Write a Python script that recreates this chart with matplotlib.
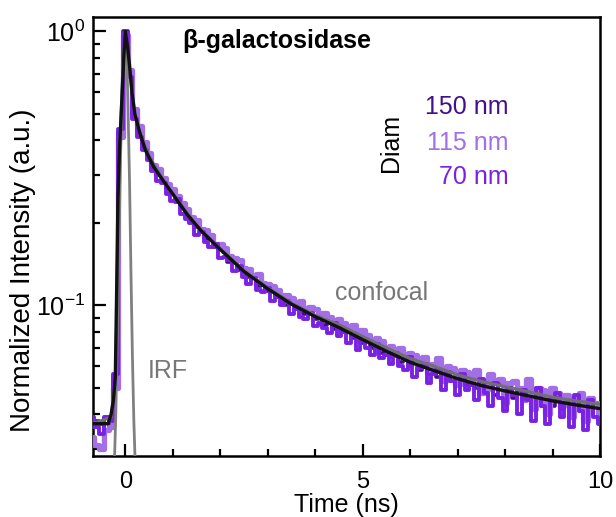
import numpy as np
import matplotlib
matplotlib.use("Agg")
import matplotlib.pyplot as plt
from matplotlib.ticker import MultipleLocator, LogLocator, NullFormatter

plt.rcParams['font.family'] = ['Liberation Sans', 'DejaVu Sans']
plt.rcParams['xtick.labelsize'] = 17
plt.rcParams['ytick.labelsize'] = 18

# -----------------------------------------------------------------
# data

# time axis of the decay histograms (ns), one bin every 0.1 ns
t_data = np.arange(-7, 101) / 10.0

# 115 nm (light purple)
decay_115 = [
    .033, .031, .030, .035, .036, .050, .41, .97, .72, .52,
    .45, .395, .36, .325, .315, .292, .278, .266, .25, .236,
    .224, .211, .205, .19, .188, .18, .168, .167, .162, .151,
    .149, .146, .137, .136, .128, .13, .121, .12, .118, .114,
    .108, .109, .106, .101, .104, .097, .099, .097, .092, .094,
    .091, .087, .089, .086, .083, .085, .079, .081, .078, .074,
    .076, .074, .07, .071, .066, .07, .064, .067, .066, .060,
    .065, .058, .061, .064, .053, .06, .059, .051, .058, .057,
    .054, .058, .048, .049, .056, .053, .054, .044, .052, .053,
    .05, .045, .054, .042, .05, .049, .040, .05, .048, .043,
    .047, .039, .046, .048, .038, .046, .044, .039,
]

# 70 nm (violet)
decay_70 = [
    .039, .036, .034, .039, .038, .056, .44, .99, .68, .48,
    .41, .37, .34, .31, .285, .279, .256, .24, .244, .216,
    .206, .199, .181, .185, .17, .163, .168, .149, .15, .146,
    .134, .139, .127, .12, .126, .114, .112, .116, .104, .107,
    .10, .104, .093, .097, .091, .089, .094, .084, .086, .083,
    .079, .086, .077, .08, .073, .077, .069, .074, .07, .066,
    .072, .064, .066, .061, .067, .06, .058, .065, .055, .059,
    .061, .052, .056, .058, .049, .057, .053, .047, .056, .049,
    .051, .045, .054, .048, .043, .052, .046, .041, .05, .047,
    .04, .049, .045, .038, .05, .043, .037, .046, .048, .039,
    .044, .036, .047, .041, .035, .045, .039, .037,
]

# 150 nm (dark purple)
decay_150 = [
    .036, .038, .037, .035, .039, .055, .43, 1.0, .70, .50,
    .43, .375, .352, .318, .298, .29, .265, .257, .238, .232,
    .21, .208, .193, .189, .176, .174, .163, .16, .157, .144,
    .146, .135, .134, .127, .127, .118, .12, .113, .113, .107,
    .108, .10, .103, .097, .098, .093, .094, .089, .091, .085,
    .088, .082, .085, .08, .081, .076, .078, .073, .075, .07,
    .073, .067, .07, .065, .067, .062, .065, .06, .063, .058,
    .061, .056, .06, .055, .058, .053, .057, .052, .055, .051,
    .054, .05, .053, .049, .052, .047, .051, .047, .05, .046,
    .049, .045, .048, .044, .048, .043, .047, .043, .046, .042,
    .046, .042, .045, .041, .044, .04, .044, .041,
]

# confocal reference decay (gray)
t_conf = [-0.7, -0.3, -0.2, -0.15, -0.1, -0.05, 0.0, 0.1, 0.2, 0.3, 0.5, 0.8, 1.0, 1.5,
          2.0, 2.5, 3.0, 3.5, 4.0, 4.5, 5.0, 5.5, 6.0, 6.5, 7.0, 7.5, 8.0, 8.5, 9.0, 9.5, 10.0]
decay_conf = [0.037, 0.039, 0.055, 0.22, 0.44, 0.75, 0.98, 0.70, 0.50, 0.43, 0.35, 0.286, 0.256, 0.196,
              0.161, 0.134, 0.116, 0.102, 0.092, 0.085, 0.077, 0.070, 0.064, 0.060, 0.0558, 0.0528,
              0.0505, 0.0484, 0.0462, 0.0448, 0.0436]

# fitted decay (black)
t_fit = [-0.7, -0.36, -0.3, -0.25, -0.21, -0.18, -0.155, -0.12, -0.07, -0.03, 0.0, 0.05, 0.09, 0.14,
         0.2, 0.3, 0.42, 0.6, 0.8, 1.0, 1.3, 1.6, 2.0, 2.5, 3.0, 3.5, 4.0, 4.5, 5.0, 5.5, 6.0, 6.5,
         7.0, 7.5, 8.0, 8.5, 9.0, 9.5, 10.0]
decay_fit = [0.037, 0.037, 0.040, 0.045, 0.055, 0.12, 0.245, 0.38, 0.57, 0.82, 1.0, 0.87, 0.75, 0.60,
             0.50, 0.43, 0.37, 0.32, 0.285, 0.255, 0.215, 0.187, 0.160, 0.133, 0.115, 0.101, 0.091,
             0.083, 0.075, 0.068, 0.062, 0.0578, 0.054, 0.051, 0.0487, 0.0467, 0.0448, 0.0433, 0.042]

# instrument response function (gray)
t_irf = [-0.25, -0.2, -0.15, -0.1, -0.05, 0.0, 0.03, 0.06, 0.09, 0.12, 0.15, 0.18, 0.21, 0.25]
irf = [0.02, 0.04, 0.11, 0.35, 0.75, 1.0, 0.85, 0.5, 0.28, 0.13, 0.065, 0.038, 0.026, 0.018]

diameters = ["150 nm", "115 nm", "70 nm"]
colors = ["#44108a", "#a36fe6", "#7a22e4"]

# -----------------------------------------------------------------

fig = plt.figure(figsize=(6.16, 5.17), dpi=100)
ax = fig.add_axes([0.151, 0.118, 0.823, 0.849])

# noisy decays as histograms (thick lines so the bins merge into a band)
ax.plot(t_data, decay_150, drawstyle='steps-mid', color=colors[0], lw=2.6, zorder=2)
ax.plot(t_data, decay_115, drawstyle='steps-mid', color=colors[1], lw=3.8, zorder=3)
ax.plot(t_data, decay_70, drawstyle='steps-mid', color=colors[2], lw=2.8, zorder=4)

# IRF, confocal reference and fit
ax.plot(t_irf, irf, color='#808080', lw=2, zorder=5)
ax.plot(t_conf, decay_conf, color='#707070', lw=2.2, zorder=6)
ax.plot(t_fit, decay_fit, color='#111111', lw=2.4, zorder=7)

ax.set_yscale('log')
ax.set_xlim(-0.68, 10.0)
ax.set_ylim(0.0282, 1.128)

# ticks: inward on left and bottom only
ax.xaxis.set_major_locator(MultipleLocator(5))
ax.xaxis.set_minor_locator(MultipleLocator(1))
ax.yaxis.set_major_locator(LogLocator(base=10))
ax.yaxis.set_minor_locator(LogLocator(base=10, subs=np.arange(2, 10)))
ax.yaxis.set_minor_formatter(NullFormatter())
ax.tick_params(which='both', direction='in', top=False, right=False, width=1.6)
ax.tick_params(which='major', length=9)
ax.tick_params(axis='x', which='major', pad=11)
ax.tick_params(axis='y', which='major', pad=6)
ax.tick_params(which='minor', length=5)
for sp in ax.spines.values():
    sp.set_linewidth(1.8)

ax.set_xlabel("Time (ns)", fontsize=18, va='top')
ax.xaxis.set_label_coords(0.5, -0.085)
ax.set_ylabel("Normalized Intensity (a.u.)", fontsize=20, va='center')
ax.yaxis.set_label_coords(-0.138, 0.424)

# annotations
ax.text(0.176, 0.929, "β-galactosidase", transform=ax.transAxes, fontsize=18,
        fontweight='bold', ha='left', va='baseline')
ax.text(0.588, 0.713, "Diam", transform=ax.transAxes, fontsize=18, rotation=90,
        ha='center', va='center', color='black')
for label, col, yy in zip(diameters, colors, [0.795, 0.713, 0.636]):
    ax.text(0.819, yy, label, transform=ax.transAxes, fontsize=18, color=col,
            ha='right', va='center')
ax.text(0.477, 0.371, "confocal", transform=ax.transAxes, fontsize=18,
        color='#777777', ha='left', va='center')
ax.text(0.107, 0.193, "IRF", transform=ax.transAxes, fontsize=18,
        color='#777777', ha='left', va='center')

fig.savefig("out.png", dpi=100)
